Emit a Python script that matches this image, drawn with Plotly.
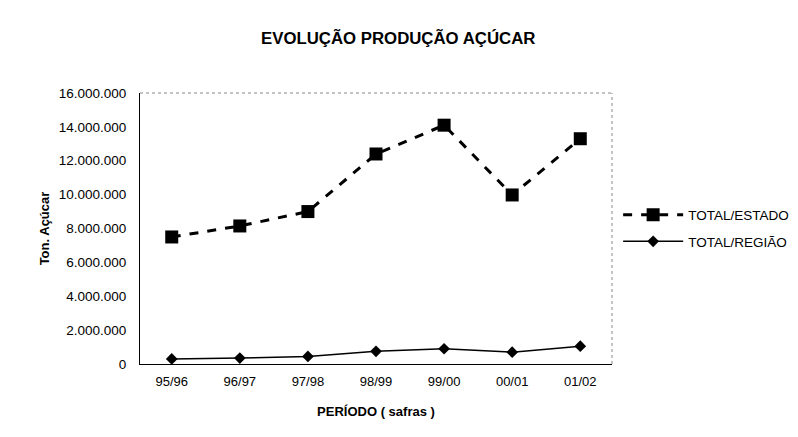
import plotly.graph_objects as go

# safras (harvest periods)
periodos = ["95/96", "96/97", "97/98", "98/99", "99/00", "00/01", "01/02"]

# production, tons of sugar
total_estado = [7500000, 8150000, 9000000, 12400000, 14100000, 9980000, 13300000]
total_regiao = [300000, 350000, 450000, 750000, 900000, 700000, 1050000]

y_ticks = [0, 2000000, 4000000, 6000000, 8000000, 10000000, 12000000, 14000000, 16000000]
y_labels = ["0", "2.000.000", "4.000.000", "6.000.000", "8.000.000",
            "10.000.000", "12.000.000", "14.000.000", "16.000.000"]

fig = go.Figure()

fig.add_trace(go.Scatter(
    x=periodos, y=total_estado,
    mode='lines+markers',
    name='TOTAL/ESTADO',
    legendgroup='estado',
    line=dict(color='black', width=3, dash='dash'),
    marker=dict(symbol='square', size=13, color='black')
))

fig.add_trace(go.Scatter(
    x=periodos, y=total_regiao,
    mode='lines+markers',
    name='TOTAL/REGIÃO',
    legendgroup='regiao',
    line=dict(color='black', width=1.5),
    marker=dict(symbol='diamond', size=9, color='black')
))

# dotted frame at top and right of plot area
fig.add_shape(type='line', xref='paper', yref='paper', x0=0, x1=1, y0=1, y1=1,
              line=dict(color='#888888', width=1, dash='dot'))
fig.add_shape(type='line', xref='paper', yref='paper', x0=1, x1=1, y0=0, y1=1,
              line=dict(color='#888888', width=1, dash='dot'))

fig.update_layout(
    width=798, height=437,
    paper_bgcolor='white', plot_bgcolor='white',
    margin=dict(l=132, r=190, t=85, b=81),
    font=dict(family='Liberation Sans, Arial, sans-serif', size=13, color='black'),
    title=dict(text='<b>EVOLUÇÃO PRODUÇÃO AÇÚCAR</b>', x=0.489, xanchor='center',
               y=0.931, yanchor='middle', font=dict(size=16.8)),
    legend=dict(x=1.013, xanchor='left', y=0.5, yanchor='middle',
                bgcolor='rgba(0,0,0,0)', font=dict(size=13.5),
                itemwidth=60, tracegroupgap=6),
    showlegend=True
)

fig.update_xaxes(
    type='category',
    showline=True, linecolor='black', linewidth=1,
    showgrid=False, ticks='', tickfont=dict(size=13), ticklabelstandoff=5,
    title=dict(text='<b>PERÍODO ( safras )</b>', font=dict(size=13), standoff=19)
)

fig.update_yaxes(
    range=[0, 16000000],
    tickvals=y_ticks, ticktext=y_labels,
    showline=True, linecolor='black', linewidth=1,
    showgrid=False, ticks='', ticklabelstandoff=10,
    zeroline=False, tickfont=dict(size=13.5),
    title=dict(text='<b>Ton. Açúcar</b>', font=dict(size=13), standoff=6)
)

fig.write_html("out.html")
